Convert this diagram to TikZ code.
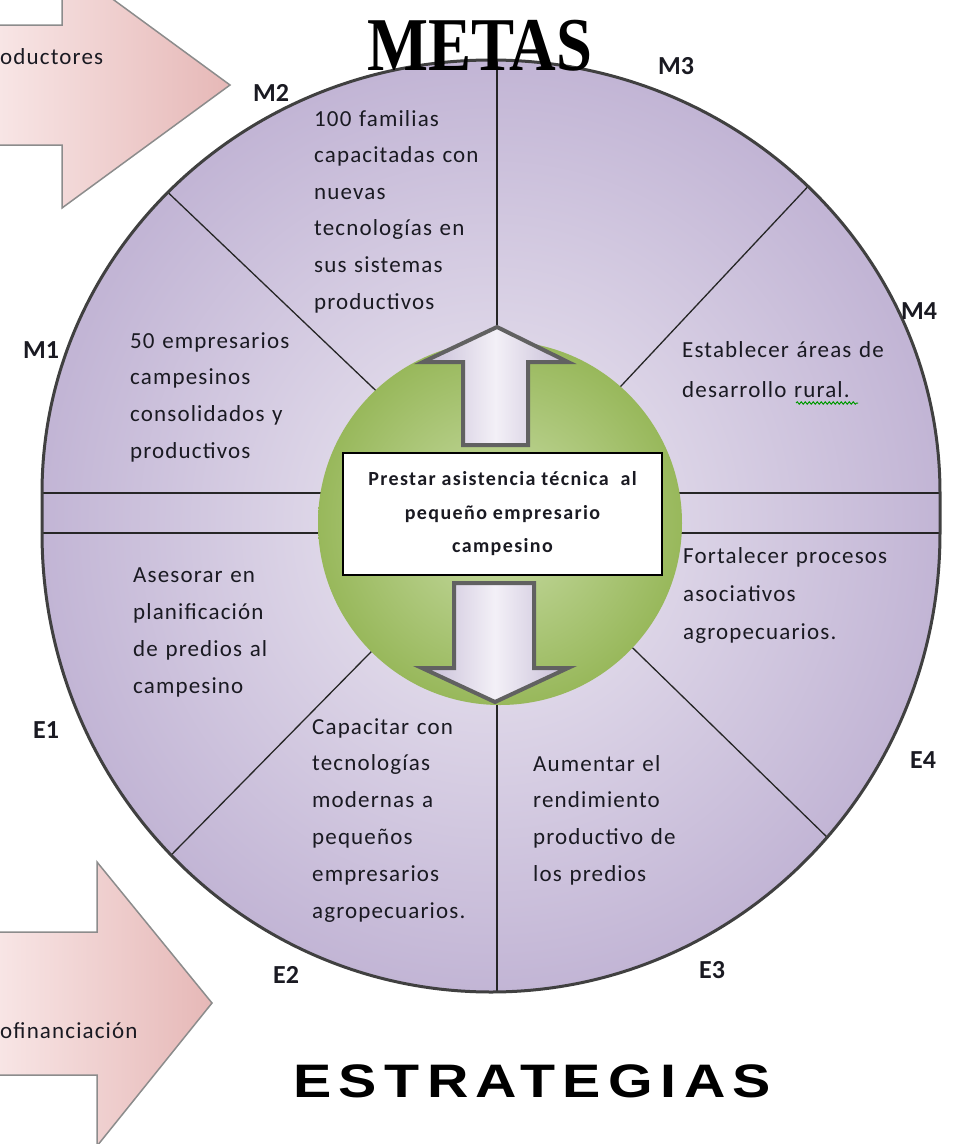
\documentclass[tikz,border=0pt]{standalone}
\usepackage{fontspec}
\usepackage{graphicx}
\setmainfont{Carlito}
\newfontfamily\bodyfont[LetterSpace=5]{Carlito}
\newfontfamily\boxfont[LetterSpace=7]{Carlito}
\newfontfamily\lblfont{Carlito}
\newfontfamily\metasfont{Liberation Serif}
\newfontfamily\estfont[LetterSpace=13]{Liberation Sans}
\usetikzlibrary{calc,decorations.pathmorphing}
\definecolor{lavin}{HTML}{EEEAF3}
\definecolor{lavout}{HTML}{C2B5D5}
\definecolor{grin}{HTML}{CADDA7}
\definecolor{grout}{HTML}{98B85B}
\definecolor{pinkL}{HTML}{F8E6E6}
\definecolor{pinkD}{HTML}{E6B8B7}
\definecolor{arrL}{HTML}{C6BCD6}
\definecolor{arrM}{HTML}{F3F0F7}
\definecolor{txt}{HTML}{1A1A22}
\tikzset{
  seg/.style={draw=black!85, line width=1.3pt},
  lbl/.style={font=\lblfont\bfseries\fontsize{26}{26}\selectfont, text=txt, inner sep=0pt},
  body/.style={font=\bodyfont\fontsize{23}{#1}\selectfont, text=txt, inner sep=0pt,
               anchor=base west, align=left, text width=260pt},
  pinkarrow/.style={draw=black!45, line width=1.5pt, left color=pinkL, right color=pinkD},
  blockarrow/.style={draw=black!62, line width=4pt, line join=miter, left color=arrL, right color=arrL, middle color=arrM},
}
\begin{document}
\begin{tikzpicture}[x=1pt,y=-1pt]
\useasboundingbox (0,0) rectangle (954,1144);

% pink arrows
\draw[pinkarrow] (-5,25) -- (62,25) -- (62,-38) -- (230,85) -- (62,208) -- (62,145) -- (-5,145) -- cycle;
\draw[pinkarrow] (-5,932) -- (97,932) -- (97,862) -- (212,1003) -- (97,1146) -- (97,1075) -- (-5,1075) -- cycle;
\node[font=\bodyfont\fontsize{23}{23}\selectfont, text=txt, inner sep=0pt, anchor=base west] (prod) at (0,64) {oductores};
\node[font=\bodyfont\fontsize{23}{23}\selectfont, text=txt, inner sep=0pt, anchor=base west] (cofin) at (0,1038) {ofinanciación};

% outer wheel
\shade[inner color=lavin, outer color=lavout]
  (42,493) arc[start angle=180, end angle=360, x radius=449, y radius=433]
  -- (940,533) arc[start angle=0, end angle=180, x radius=449, y radius=459] -- cycle;

\coordinate (c) at (500,523);
\coordinate (a1) at (370,385); \coordinate (b1) at (178,202);
\coordinate (a2) at (622,385); \coordinate (b2) at (800,195);
\coordinate (a3) at (365,658); \coordinate (b3) at (183,843);
\coordinate (a4) at (640,655); \coordinate (b4) at (830,840);
\begin{scope}
  \clip (42,493) arc[start angle=180, end angle=360, x radius=449, y radius=433]
    -- (940,533) arc[start angle=0, end angle=180, x radius=449, y radius=459] -- cycle;
  \draw[seg] ($(a1)!-0.2!(b1)$) -- ($(a1)!1.3!(b1)$);
  \draw[seg] ($(a2)!-0.2!(b2)$) -- ($(a2)!1.3!(b2)$);
  \draw[seg] ($(a3)!-0.2!(b3)$) -- ($(a3)!1.3!(b3)$);
  \draw[seg] ($(a4)!-0.2!(b4)$) -- ($(a4)!1.3!(b4)$);
  \draw[seg] (497,345) -- (497,0);
  \draw[seg] (497,700) -- (497,1144);
  \draw[seg] (0,493) -- (954,493);
  \draw[seg] (0,533) -- (954,533);
\end{scope}
\draw[draw=black!75, line width=3pt]
  (42,493) arc[start angle=180, end angle=360, x radius=449, y radius=433]
  -- (940,533) arc[start angle=0, end angle=180, x radius=449, y radius=459] -- cycle;

% green hub
\shade[inner color=grin, outer color=grout] (c) circle[radius=182];

% block arrows
\draw[blockarrow] (497,327) -- (568,362) -- (528,362) -- (528,445) -- (463,445) -- (463,362) -- (423,362) -- cycle;
\draw[blockarrow] (454,583) -- (534,583) -- (534,668) -- (568,668) -- (495,702) -- (422,668) -- (454,668) -- cycle;

% central box
\node[draw=black, fill=white, line width=2pt, minimum width=319pt, minimum height=122pt, inner sep=0pt,
      align=center, font=\boxfont\bfseries\fontsize{20}{33.5}\selectfont, text=txt] (box) at (502.5,514)
  {Prestar asistencia técnica \ al\\pequeño empresario\\campesino};

% titles
\node[inner sep=0pt, anchor=base west] (metas) at (367,70)
  {\scalebox{0.85}[1]{\metasfont\bfseries\fontsize{76}{76}\selectfont METAS}};
\node[inner sep=0pt, anchor=base west] (estr) at (293,1097)
  {\scalebox{1.22}[1]{\estfont\bfseries\fontsize{47}{47}\selectfont ESTRATEGIAS}};

% labels
\node[lbl] (m1) at (41,350) {M1};
\node[lbl] (m2) at (271,93) {M2};
\node[lbl] (m3) at (676,66) {M3};
\node[lbl] (m4) at (919,311) {M4};
\node[lbl] (e1) at (46,730) {E1};
\node[lbl] (e2) at (286,975) {E2};
\node[lbl] (e3) at (712,970) {E3};
\node[lbl] (e4) at (923,760) {E4};

% texts
\node[body=36.6] (tm2) at (314,126) {100 familias\\capacitadas con\\nuevas\\tecnologías en\\sus sistemas\\productivos};
\node[body=36.7] (tm1) at (130,348) {50 empresarios\\campesinos\\consolidados y\\productivos};
\node[body=40] (tm4) at (682,357) {Establecer áreas de\\desarrollo rural.};
\node[body=38] (te4) at (683,563) {Fortalecer procesos\\asociativos\\agropecuarios.};
\node[body=37.3] (te1) at (133,582) {Asesorar en\\planificación\\de predios al\\campesino};
\node[body=36.8] (te2) at (312,734) {Capacitar con\\tecnologías\\modernas a\\pequeños\\empresarios\\agropecuarios.};
\node[body=36.7] (te3) at (533,771) {Aumentar el\\rendimiento\\productivo de\\los predios};

% spell-check squiggle under "rural"
\draw[green!60!black, line width=1pt, decorate, decoration={snake, amplitude=1.2pt, segment length=4pt}] (796,403) -- (858,403);
\end{tikzpicture}
\end{document}
